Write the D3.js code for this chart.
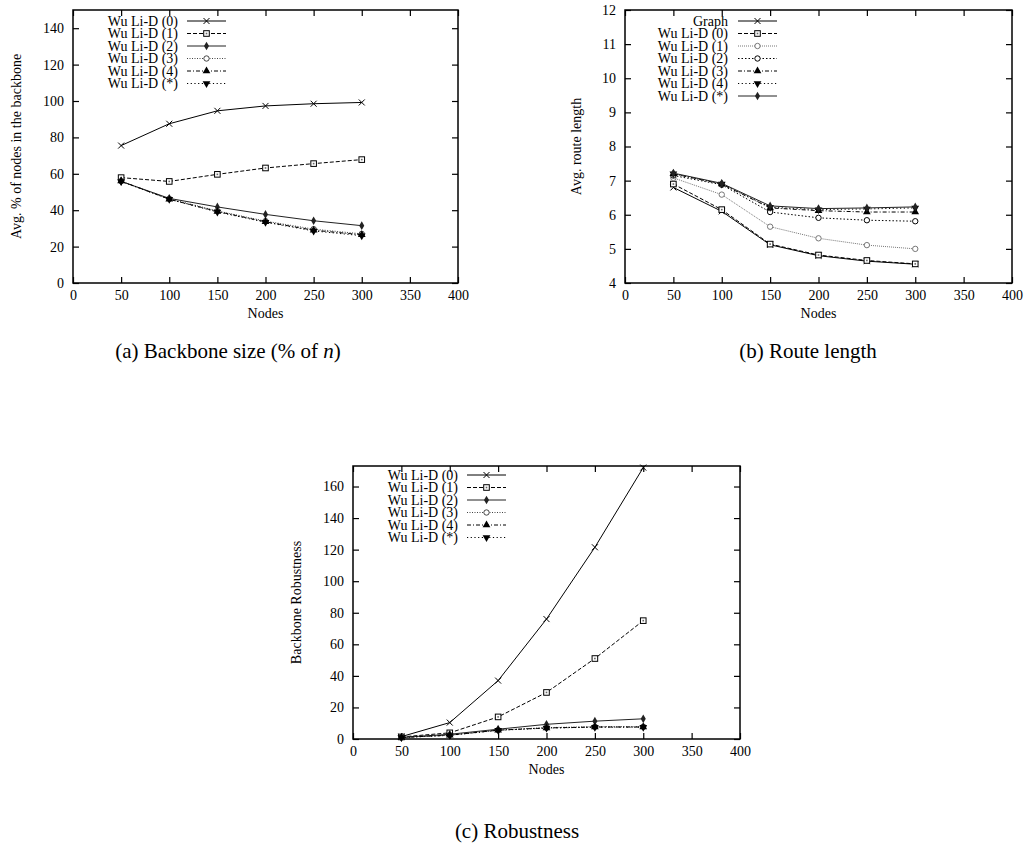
<!DOCTYPE html>
<html>
<head>
<meta charset="utf-8">
<script src="https://cdn.jsdelivr.net/npm/d3@7/dist/d3.min.js"></script>
<style>
  html, body { margin: 0; padding: 0; background: #fff; }
  svg { display: block; }
  text { font-family: "Liberation Serif", "Times New Roman", serif; fill: #000; }
</style>
</head>
<body>
<svg id="chart" width="1027" height="846"></svg>
<script>
// ---------------- DATA ----------------
const nodes = [50, 100, 150, 200, 250, 300];
const xTicks = [0, 50, 100, 150, 200, 250, 300, 350, 400];

// (a) Backbone size
const sizeTicks = [0, 20, 40, 60, 80, 100, 120, 140];
const sizeLabels = ["Wu Li-D (0)", "Wu Li-D (1)", "Wu Li-D (2)", "Wu Li-D (3)", "Wu Li-D (4)", "Wu Li-D (*)"];
const sizeWu0 = [75.5, 87.5, 94.6, 97.3, 98.5, 99.2];
const sizeWu1 = [57.9, 55.8, 59.7, 63.2, 65.6, 67.8];
const sizeWu2 = [55.8, 46.5, 41.8, 37.7, 34.2, 31.5];
const sizeWu3 = [56.0, 46.3, 39.6, 34.0, 29.6, 27.0];
const sizeWu4 = [56.0, 46.0, 39.3, 33.6, 29.0, 26.5];
const sizeWuS = [55.8, 46.0, 39.0, 33.4, 28.6, 26.0];

// (b) Route length
const routeTicks = [4, 5, 6, 7, 8, 9, 10, 11, 12];
const routeLabels = ["Graph", "Wu Li-D (0)", "Wu Li-D (1)", "Wu Li-D (2)", "Wu Li-D (3)", "Wu Li-D (4)", "Wu Li-D (*)"];
const routeGraph = [6.80, 6.10, 5.12, 4.80, 4.64, 4.55];
const routeWu0 = [6.90, 6.15, 5.14, 4.82, 4.66, 4.56];
const routeWu1 = [7.08, 6.59, 5.65, 5.31, 5.11, 5.00];
const routeWu2 = [7.15, 6.88, 6.08, 5.91, 5.84, 5.81];
const routeWu3 = [7.20, 6.90, 6.20, 6.12, 6.08, 6.08];
const routeWu4 = [7.20, 6.90, 6.22, 6.15, 6.17, 6.20];
const routeWuS = [7.22, 6.92, 6.26, 6.18, 6.20, 6.23];

// (c) Robustness
const robustTicks = [0, 20, 40, 60, 80, 100, 120, 140, 160];
const robustLabels = ["Wu Li-D (0)", "Wu Li-D (1)", "Wu Li-D (2)", "Wu Li-D (3)", "Wu Li-D (4)", "Wu Li-D (*)"];
const robWu0 = [1.5, 10.4, 37.0, 76.0, 121.5, 172.0];
const robWu1 = [1.3, 3.9, 14.0, 29.5, 51.0, 75.0];
const robWu2 = [1.0, 3.0, 6.2, 9.3, 11.3, 12.8];
const robWu3 = [1.0, 2.5, 5.7, 7.2, 7.8, 7.8];
const robWu4 = [1.0, 2.4, 5.6, 7.0, 7.6, 7.6];
const robWuS = [0.9, 2.3, 5.5, 6.9, 7.5, 7.5];

// ---------------- STYLES ----------------
const ST = {
  solidX:   { dash: null,      color: "#000", marker: "x" },
  dashSq:   { dash: "4,2",     color: "#000", marker: "square" },
  solidDia: { dash: null,      color: "#222", marker: "diamond" },
  dotCirc:  { dash: "1,1.5",   color: "#444", marker: "circle" },
  dashDotTri: { dash: "4,2,1,2", color: "#000", marker: "tri" },
  dotInv:   { dash: "1.2,2.5", color: "#000", marker: "inv" },
  grayDotCirc: { dash: "1,1", color: "#777", marker: "circle" },
  dotSmallCirc: { dash: "1.5,2", color: "#000", marker: "circle" }
};

const svg = d3.select("#chart");

function marker(g, type, x, y, color) {
  const s = 3;
  if (type === "x") {
    g.append("path").attr("d", `M${x-s},${y-s}L${x+s},${y+s}M${x-s},${y+s}L${x+s},${y-s}`)
      .attr("stroke", color).attr("stroke-width", 1).attr("fill", "none");
  } else if (type === "square") {
    g.append("rect").attr("x", x-2.8).attr("y", y-2.8).attr("width", 5.6).attr("height", 5.6)
      .attr("stroke", color).attr("stroke-width", 1).attr("fill", "#fff");
    g.append("rect").attr("x", x-0.8).attr("y", y-0.8).attr("width", 1.6).attr("height", 1.6).attr("fill", "#666");
  } else if (type === "diamond") {
    g.append("path").attr("d", d3.symbol(d3.symbolDiamond, 22)()).attr("transform", `translate(${x},${y})`)
      .attr("fill", color);
  } else if (type === "circle") {
    g.append("circle").attr("cx", x).attr("cy", y).attr("r", 2.7)
      .attr("stroke", color).attr("stroke-width", 1).attr("fill", "#fff");
  } else if (type === "tri") {
    g.append("path").attr("d", d3.symbol(d3.symbolTriangle, 26)()).attr("transform", `translate(${x},${y})`)
      .attr("fill", color);
  } else if (type === "inv") {
    g.append("path").attr("d", d3.symbol(d3.symbolTriangle, 26)()).attr("transform", `translate(${x},${y}) rotate(180)`)
      .attr("fill", color);
  }
}

function drawChart(cfg) {
  const g = svg.append("g");
  const x = d3.scaleLinear().domain([0, 400]).range([cfg.x0, cfg.x1]);
  const y = d3.scaleLinear().domain(cfg.yDomain).range([cfg.y1, cfg.y0]);

  const axB = d3.axisBottom(x).tickValues(xTicks).tickSizeInner(-6).tickSizeOuter(0).tickPadding(7);
  const axT = d3.axisTop(x).tickValues(xTicks).tickSizeInner(-6).tickSizeOuter(0).tickFormat("");
  const axL = d3.axisLeft(y).tickValues(cfg.yTicks).tickSizeInner(-6).tickSizeOuter(0).tickPadding(9);
  const axR = d3.axisRight(y).tickValues(cfg.yTicks).tickSizeInner(-6).tickSizeOuter(0).tickFormat("");

  const style = sel => {
    sel.select(".domain").remove();
    sel.selectAll("line").attr("stroke", "#000").attr("stroke-width", 1.2);
    sel.selectAll("text").style("font-size", "14px").style("font-family", "'Liberation Serif', serif");
  };
  g.append("g").attr("transform", `translate(0,${cfg.y1})`).call(axB).call(style);
  g.append("g").attr("transform", `translate(0,${cfg.y0})`).call(axT).call(style);
  g.append("g").attr("transform", `translate(${cfg.x0},0)`).call(axL).call(style);
  g.append("g").attr("transform", `translate(${cfg.x1},0)`).call(axR).call(style);

  g.append("rect").attr("x", cfg.x0).attr("y", cfg.y0).attr("width", cfg.x1 - cfg.x0).attr("height", cfg.y1 - cfg.y0)
    .attr("fill", "none").attr("stroke", "#000").attr("stroke-width", 1.5);

  g.append("text").attr("x", (cfg.x0 + cfg.x1) / 2).attr("y", cfg.y1 + 35)
    .attr("text-anchor", "middle").style("font-size", "14px").text("Nodes");
  g.append("text").attr("transform", `translate(${cfg.yLabelX},${(cfg.y0 + cfg.y1) / 2}) rotate(-90)`)
    .attr("text-anchor", "middle").attr("dy", "0.35em").style("font-size", "14px").text(cfg.yLabel);

  const line = d3.line().x((d, i) => x(nodes[i])).y(d => y(d));
  cfg.series.forEach((s, k) => {
    const st = s.style;
    g.append("path").datum(s.values).attr("d", line)
      .attr("fill", "none").attr("stroke", st.color).attr("stroke-width", 1)
      .attr("stroke-dasharray", st.dash);
    s.values.forEach((v, i) => marker(g, st.marker, x(nodes[i]), y(v), st.color));

    // legend
    const ly = cfg.legY + k * cfg.legStep;
    g.append("text").attr("x", cfg.legTextX).attr("y", ly).attr("dy", "0.35em")
      .attr("text-anchor", "end").style("font-size", "14px").text(s.label);
    g.append("line").attr("x1", cfg.legLineX).attr("x2", cfg.legLineX + 39).attr("y1", ly).attr("y2", ly)
      .attr("stroke", st.color).attr("stroke-width", 1).attr("stroke-dasharray", st.dash);
    marker(g, st.marker, cfg.legLineX + 19.5, ly, st.color);
  });
}

drawChart({
  x0: 73, x1: 458, y0: 10, y1: 283, yDomain: [0, 150], yTicks: sizeTicks,
  yLabel: "Avg. % of nodes in the backbone", yLabelX: 16,
  legY: 21, legStep: 12.5, legTextX: 178, legLineX: 187,
  series: [
    { label: sizeLabels[0], values: sizeWu0, style: ST.solidX },
    { label: sizeLabels[1], values: sizeWu1, style: ST.dashSq },
    { label: sizeLabels[2], values: sizeWu2, style: ST.solidDia },
    { label: sizeLabels[3], values: sizeWu3, style: ST.dotCirc },
    { label: sizeLabels[4], values: sizeWu4, style: ST.dashDotTri },
    { label: sizeLabels[5], values: sizeWuS, style: ST.dotInv }
  ]
});

drawChart({
  x0: 625, x1: 1012, y0: 10, y1: 283, yDomain: [4, 12], yTicks: routeTicks,
  yLabel: "Avg. route length", yLabelX: 576,
  legY: 21, legStep: 12.5, legTextX: 728, legLineX: 738,
  series: [
    { label: routeLabels[0], values: routeGraph, style: ST.solidX },
    { label: routeLabels[1], values: routeWu0, style: ST.dashSq },
    { label: routeLabels[2], values: routeWu1, style: ST.grayDotCirc },
    { label: routeLabels[3], values: routeWu2, style: ST.dotSmallCirc },
    { label: routeLabels[4], values: routeWu3, style: ST.dashDotTri },
    { label: routeLabels[5], values: routeWu4, style: ST.dotInv },
    { label: routeLabels[6], values: routeWuS, style: ST.solidDia }
  ]
});

drawChart({
  x0: 353, x1: 740, y0: 466, y1: 739, yDomain: [0, 173], yTicks: robustTicks,
  yLabel: "Backbone Robustness", yLabelX: 296,
  legY: 475, legStep: 12.5, legTextX: 458, legLineX: 467,
  series: [
    { label: robustLabels[0], values: robWu0, style: ST.solidX },
    { label: robustLabels[1], values: robWu1, style: ST.dashSq },
    { label: robustLabels[2], values: robWu2, style: ST.solidDia },
    { label: robustLabels[3], values: robWu3, style: ST.dotCirc },
    { label: robustLabels[4], values: robWu4, style: ST.dashDotTri },
    { label: robustLabels[5], values: robWuS, style: ST.dotInv }
  ]
});

// captions
const cap = (x, y, parts) => {
  const t = svg.append("text").attr("x", x).attr("y", y).attr("text-anchor", "middle")
    .style("font-family", "'Liberation Serif', serif")
    .style("font-size", "21px");
  parts.forEach(p => t.append("tspan")
    .style("font-style", p.it ? "italic" : "normal").text(p.t));
};
cap(228, 358, [{ t: "(a) Backbone size (% of " }, { t: "n", it: true }, { t: ")" }]);
cap(808, 358, [{ t: "(b) Route length" }]);
cap(517, 838, [{ t: "(c) Robustness" }]);
</script>
</body>
</html>
